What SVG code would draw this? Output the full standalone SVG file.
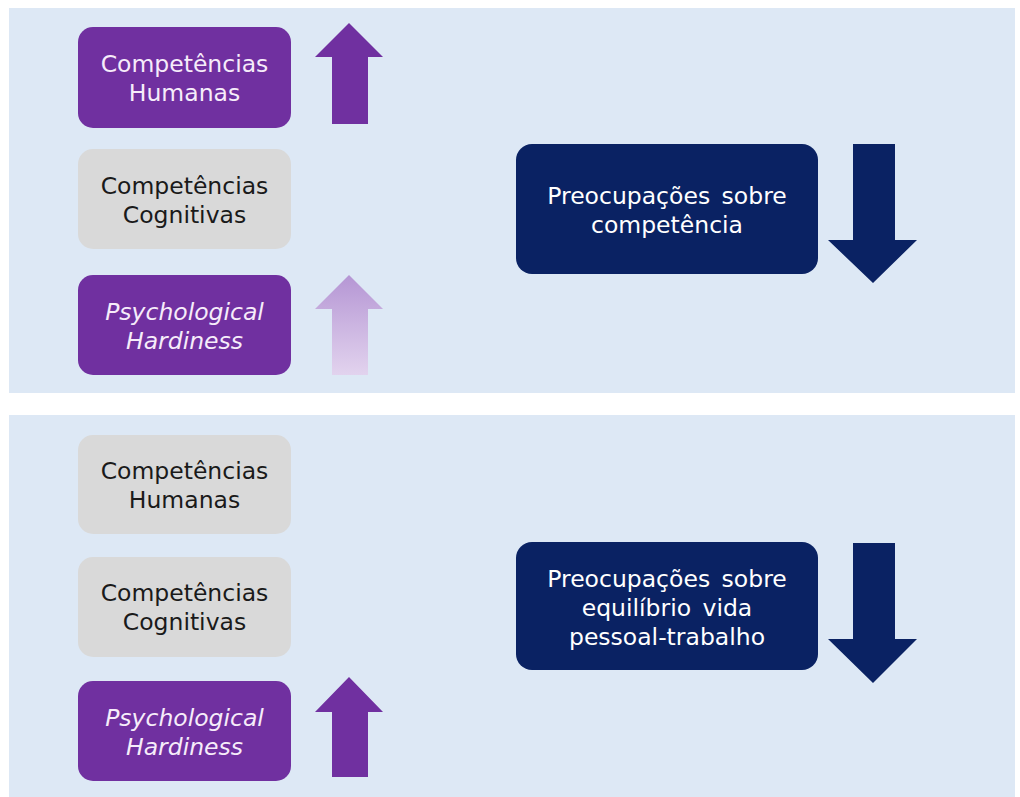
<svg xmlns="http://www.w3.org/2000/svg" width="1020" height="797" viewBox="0 0 1020 797">
<defs>
<linearGradient id="fade" x1="0" y1="0" x2="0" y2="1">
<stop offset="0" stop-color="#b596d4"/>
<stop offset="1" stop-color="#e2d3ee"/>
</linearGradient>
<style>
.panel{fill:#dde8f5}
.purple{fill:#7030a0}
.grey{fill:#d9d9d9}
.navy{fill:#0a2263}
.t{font-family:"DejaVu Sans",Verdana,sans-serif;font-size:23.5px;text-anchor:middle}
.tw{fill:#f6ecfa}
.tk{fill:#1a1a1a}
.tn{fill:#ffffff;word-spacing:4px}
.it{font-style:italic}
</style>
</defs>
<rect width="1020" height="797" fill="#ffffff"/>
<rect class="panel" x="9" y="8" width="1006" height="385"/>
<rect class="panel" x="9" y="415" width="1006" height="382"/>

<g id="top-humanas">
<rect class="purple" x="78" y="27" width="213" height="101" rx="15"/>
<text class="t tw" x="184.5" y="72">Competências</text>
<text class="t tw" x="184.5" y="101">Humanas</text>
</g>
<g id="top-cognitivas">
<rect class="grey" x="78" y="149" width="213" height="100" rx="15"/>
<text class="t tk" x="184.5" y="194">Competências</text>
<text class="t tk" x="184.5" y="223">Cognitivas</text>
</g>
<g id="top-hardiness">
<rect class="purple" x="78" y="275" width="213" height="100" rx="15"/>
<text class="t tw it" x="184.5" y="320">Psychological</text>
<text class="t tw it" x="184.5" y="349">Hardiness</text>
</g>
<g id="top-preocupacoes">
<rect class="navy" x="516" y="144" width="302" height="130" rx="16"/>
<text class="t tn" x="667" y="204">Preocupações sobre</text>
<text class="t tn" x="667" y="233">competência</text>
</g>

<g id="bottom-humanas">
<rect class="grey" x="78" y="435" width="213" height="99" rx="15"/>
<text class="t tk" x="184.5" y="479">Competências</text>
<text class="t tk" x="184.5" y="508">Humanas</text>
</g>
<g id="bottom-cognitivas">
<rect class="grey" x="78" y="557" width="213" height="100" rx="15"/>
<text class="t tk" x="184.5" y="601">Competências</text>
<text class="t tk" x="184.5" y="630">Cognitivas</text>
</g>
<g id="bottom-hardiness">
<rect class="purple" x="78" y="681" width="213" height="100" rx="15"/>
<text class="t tw it" x="184.5" y="726">Psychological</text>
<text class="t tw it" x="184.5" y="755">Hardiness</text>
</g>
<g id="bottom-preocupacoes">
<rect class="navy" x="516" y="542" width="302" height="128" rx="16"/>
<text class="t tn" x="667" y="587">Preocupações sobre</text>
<text class="t tn" x="667" y="616">equilíbrio vida</text>
<text class="t tn" x="667" y="645">pessoal-trabalho</text>
</g>

<g id="arrows">
<polygon class="purple" points="349,23 383,57 368,57 368,124 332,124 332,57 315,57"/>
<polygon fill="url(#fade)" points="349,275 383,309 368,309 368,375 332,375 332,309 315,309"/>
<polygon class="navy" points="853,144 895,144 895,240 917,240 873,283 828,240 853,240"/>
<polygon class="navy" points="853,543 895,543 895,639 917,639 873,683 828,639 853,639"/>
<polygon class="purple" points="349,677 383,712 368,712 368,777 332,777 332,712 315,712"/>
</g>
</svg>
